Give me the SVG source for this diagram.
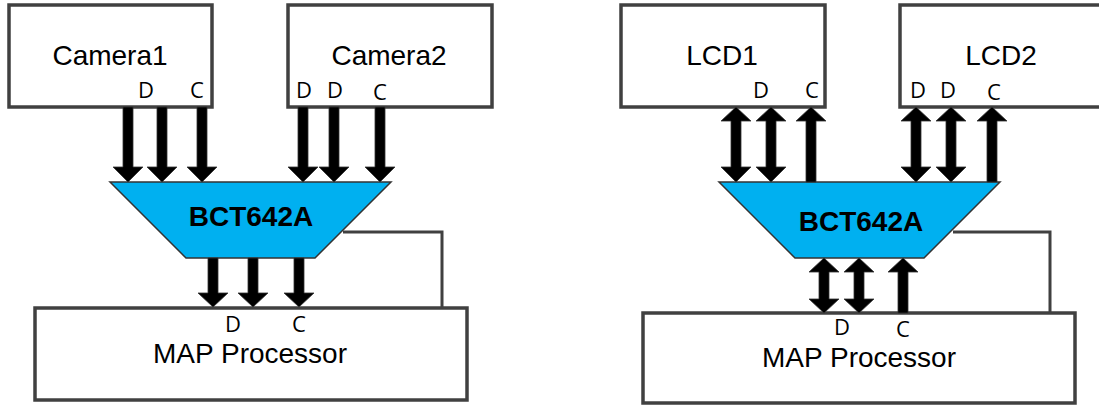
<svg xmlns="http://www.w3.org/2000/svg" width="1099" height="405" viewBox="0 0 1099 405">
<style>
.box{fill:#fff;stroke:#404040;stroke-width:3.5}
.chip{fill:#00b0f0;stroke:#333;stroke-width:1.5}
.arr{fill:#000;stroke:#333;stroke-width:0.8}
.wire{fill:none;stroke:#404040;stroke-width:3}
.big{font-family:"Liberation Sans",Arial,sans-serif;font-size:28px;fill:#000;text-anchor:middle}
.bold{font-family:"Liberation Sans",Arial,sans-serif;font-size:28px;font-weight:bold;fill:#000;text-anchor:middle}
.pin{font-family:"Open Sans","Noto Sans",sans-serif;font-size:22px;fill:#000;text-anchor:middle}
</style>
<rect width="1099" height="405" fill="#fff"/>
<g id="camera1"><rect class="box" x="9" y="5" width="203" height="102"/><text class="big" x="110" y="65">Camera1</text><text class="pin" x="146" y="98">D</text><text class="pin" x="197" y="98">C</text></g>
<g id="camera2"><rect class="box" x="288" y="5" width="204" height="102"/><text class="big" x="389" y="65">Camera2</text><text class="pin" x="304" y="98">D</text><text class="pin" x="335" y="98">D</text><text class="pin" x="380" y="100">C</text></g>
<g id="bct642a-left"><polygon class="chip" points="110,182 391,182 315,258 186,258"/><text class="bold" x="251" y="226">BCT642A</text></g>
<g id="map-left"><rect class="box" x="35" y="308" width="432" height="92"/><text class="big" x="250" y="363">MAP Processor</text><text class="pin" x="233" y="332">D</text><text class="pin" x="299" y="332">C</text></g>
<g id="lcd1"><rect class="box" x="621" y="5" width="204" height="102"/><text class="big" x="722" y="65">LCD1</text><text class="pin" x="761" y="98">D</text><text class="pin" x="812" y="98">C</text></g>
<g id="lcd2"><rect class="box" x="900" y="5" width="205" height="102"/><text class="big" x="1001" y="65">LCD2</text><text class="pin" x="918" y="98">D</text><text class="pin" x="948" y="98">D</text><text class="pin" x="994" y="100">C</text></g>
<g id="bct642a-right"><polygon class="chip" points="719,182 1000,182 924,258 795,258"/><text class="bold" x="861" y="231">BCT642A</text></g>
<g id="map-right"><rect class="box" x="643" y="313" width="432" height="90"/><text class="big" x="859" y="367">MAP Processor</text><text class="pin" x="842" y="335">D</text><text class="pin" x="903" y="337">C</text></g>
<g id="connectors">
<polyline class="wire" points="343,232 442,232 442,308"/>
<polyline class="wire" points="953,232 1050,232 1050,313"/>
<polygon class="arr" points="123,107 133,107 133,167 143,167 128,182 113,167 123,167"/>
<polygon class="arr" points="157,107 167,107 167,167 177,167 162,182 147,167 157,167"/>
<polygon class="arr" points="197,107 207,107 207,167 217,167 202,182 187,167 197,167"/>
<polygon class="arr" points="298,107 308,107 308,167 318,167 303,182 288,167 298,167"/>
<polygon class="arr" points="329,107 339,107 339,167 349,167 334,182 319,167 329,167"/>
<polygon class="arr" points="375,107 385,107 385,167 395,167 380,182 365,167 375,167"/>
<polygon class="arr" points="208,258 218,258 218,293 228,293 213,307 198,293 208,293"/>
<polygon class="arr" points="248,258 258,258 258,293 268,293 253,307 238,293 248,293"/>
<polygon class="arr" points="294,258 304,258 304,293 314,293 299,307 284,293 294,293"/>
<polygon class="arr" points="736,107 751,121 741,121 741,167 751,167 736,182 721,167 731,167 731,121 721,121"/>
<polygon class="arr" points="771,107 786,121 776,121 776,167 786,167 771,182 756,167 766,167 766,121 756,121"/>
<polygon class="arr" points="811,107 826,121 816,121 816,182 806,182 806,121 796,121"/>
<polygon class="arr" points="916,107 931,121 921,121 921,167 931,167 916,182 901,167 911,167 911,121 901,121"/>
<polygon class="arr" points="951,107 966,121 956,121 956,167 966,167 951,182 936,167 946,167 946,121 936,121"/>
<polygon class="arr" points="992,107 1007,121 997,121 997,182 987,182 987,121 977,121"/>
<polygon class="arr" points="824,258 839,272 829,272 829,299 839,299 824,313 809,299 819,299 819,272 809,272"/>
<polygon class="arr" points="859,258 874,272 864,272 864,299 874,299 859,313 844,299 854,299 854,272 844,272"/>
<polygon class="arr" points="903,258 918,272 908,272 908,313 898,313 898,272 888,272"/>
</g>
</svg>
